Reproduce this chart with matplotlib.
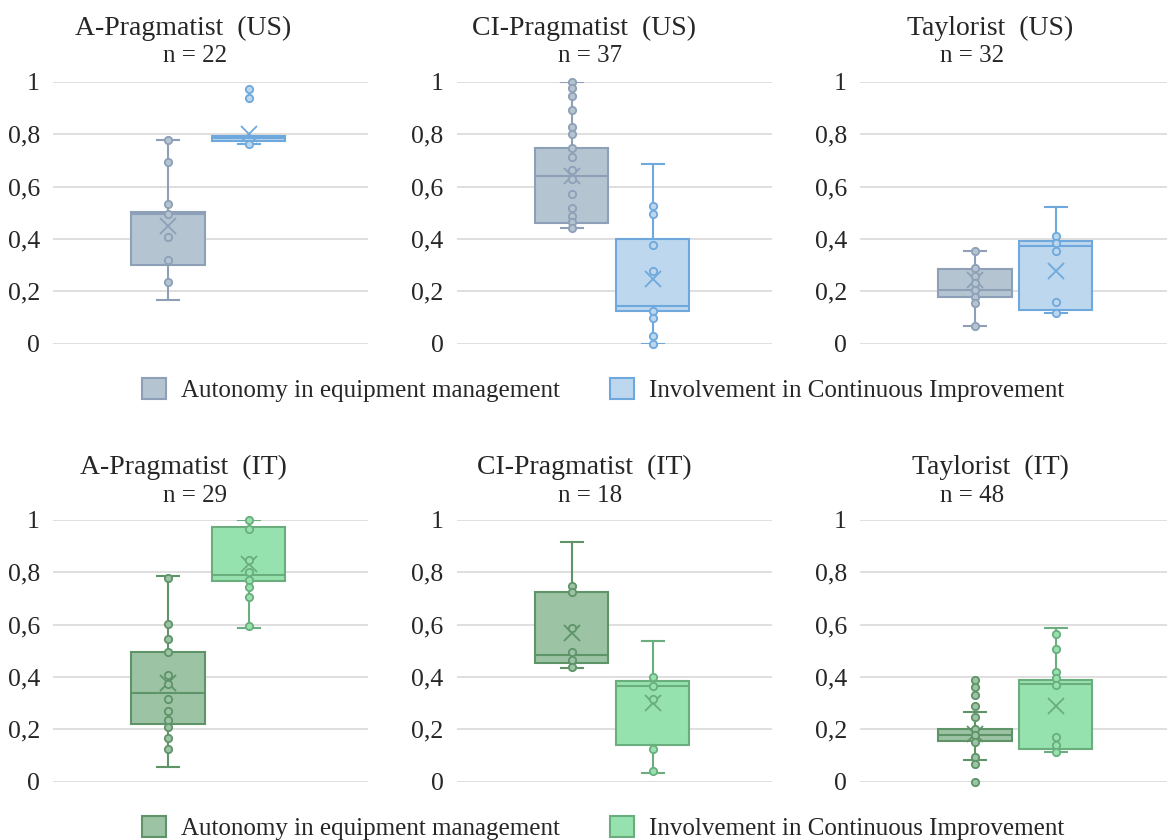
import matplotlib
matplotlib.use("Agg")
import matplotlib.pyplot as plt
from matplotlib.patches import Patch

plt.rcParams['font.family'] = ['Liberation Serif', 'DejaVu Serif']

# panel titles and sample sizes
titles = ['A-Pragmatist  (US)', 'CI-Pragmatist  (US)', 'Taylorist  (US)',
          'A-Pragmatist  (IT)', 'CI-Pragmatist  (IT)', 'Taylorist  (IT)']
n_counts = [22, 37, 32, 29, 18, 48]
series = ['Autonomy in equipment management', 'Involvement in Continuous Improvement']
ytick_vals = [0, 0.2, 0.4, 0.6, 0.8, 1]
ytick_labels = ['0', '0,2', '0,4', '0,6', '0,8', '1']

# box stats per panel: [whisker low, q1, median, q3, whisker high, mean]
auto_stats = [
    [0.166, 0.299, 0.496, 0.502, 0.778, 0.451],
    [0.441, 0.462, 0.640, 0.747, 1.000, 0.639],
    [0.068, 0.179, 0.203, 0.284, 0.352, 0.243],
    [0.054, 0.221, 0.338, 0.494, 0.785, 0.375],
    [0.433, 0.452, 0.482, 0.724, 0.916, 0.569],
    [0.084, 0.153, 0.179, 0.201, 0.267, 0.183],
]
inv_stats = [
    [0.764, 0.774, 0.784, 0.793, 0.793, 0.803],
    [0.000, 0.123, 0.142, 0.398, 0.688, 0.245],
    [0.115, 0.130, 0.373, 0.393, 0.522, 0.278],
    [0.588, 0.766, 0.788, 0.972, 1.000, 0.831],
    [0.033, 0.141, 0.364, 0.384, 0.537, 0.299],
    [0.111, 0.126, 0.373, 0.390, 0.588, 0.289],
]

# individual points shown on each box
auto_points = [
    [0.778, 0.693, 0.533, 0.494, 0.407, 0.318, 0.234],
    [1.0, 0.977, 0.946, 0.893, 0.828, 0.801, 0.747, 0.715, 0.663, 0.630, 0.572,
     0.519, 0.487, 0.464, 0.441],
    [0.352, 0.287, 0.258, 0.232, 0.204, 0.179, 0.153, 0.068],
    [0.778, 0.601, 0.545, 0.494, 0.409, 0.371, 0.317, 0.271, 0.234, 0.208,
     0.165, 0.125],
    [0.747, 0.724, 0.586, 0.494, 0.463, 0.439],
    [0.389, 0.361, 0.332, 0.289, 0.246, 0.201, 0.177, 0.152, 0.093, 0.067, 0.0],
]
inv_points = [
    [0.973, 0.939, 0.764],
    [0.527, 0.497, 0.377, 0.276, 0.123, 0.096, 0.027, 0.0],
    [0.412, 0.383, 0.352, 0.157, 0.115],
    [1.0, 0.964, 0.847, 0.803, 0.772, 0.744, 0.706, 0.594],
    [0.399, 0.364, 0.315, 0.123, 0.04],
    [0.563, 0.507, 0.420, 0.394, 0.368, 0.169, 0.141, 0.113],
]

# colours: (fill, edge) per row and series
us_colors = [('#B4C4D0', '#8EA0B8'), ('#BDD7EE', '#6FA8DC')]
it_colors = [('#9CC3A4', '#5E9468'), ('#96E2AE', '#6AAE7E')]

W, H = 1167, 840
fig = plt.figure(figsize=(W / 100, H / 100), dpi=100)

lefts = [53, 456.7, 860]
tops = [82, 520]
ax_w, ax_h = 315, 261.5
title_x = [183, 584, 990]
n_x = [195, 590, 972]
title_y = [[28, 56], [467, 496]]

positions = [0.365, 0.622]
box_w = 0.232


def make_stats(s):
    return dict(whislo=s[0], q1=s[1], med=s[2], q3=s[3], whishi=s[4], mean=s[5], fliers=[])


for i in range(6):
    row, col = divmod(i, 3)
    ax = fig.add_axes([lefts[col] / W, 1 - (tops[row] + ax_h) / H, ax_w / W, ax_h / H])
    colors = us_colors if row == 0 else it_colors
    for k, (stats, pts) in enumerate([(auto_stats[i], auto_points[i]),
                                      (inv_stats[i], inv_points[i])]):
        fill, edge = colors[k]
        ax.bxp([make_stats(stats)], positions=[positions[k]], widths=box_w,
               capwidths=0.07, showmeans=True, patch_artist=True, showfliers=False,
               boxprops=dict(facecolor=fill, edgecolor=edge, linewidth=1.5),
               medianprops=dict(color=edge, linewidth=1.5),
               whiskerprops=dict(color=edge, linewidth=1.5),
               capprops=dict(color=edge, linewidth=1.5),
               meanprops=dict(marker='x', markeredgecolor=edge, markersize=11,
                              markeredgewidth=1.3),
               zorder=2)
        ax.scatter([positions[k]] * len(pts), pts, s=28, facecolor=fill,
                   edgecolor=edge, linewidth=1.3, zorder=4, clip_on=False)
    ax.set_xlim(0, 1)
    ax.set_ylim(0, 1)
    ax.set_yticks(ytick_vals)
    ax.set_yticklabels(ytick_labels)
    ax.set_xticks([])
    ax.tick_params(axis='y', length=0, pad=9.4, labelsize=18.5, labelcolor='#262626')
    for sp in ax.spines.values():
        sp.set_visible(False)
    ax.grid(axis='y', color='#D9D9D9', linewidth=1.2, zorder=0)
    ax.set_axisbelow(True)

    fig.text(title_x[col] / W, 1 - title_y[row][0] / H, titles[i], ha='center',
             va='center', fontsize=20, color='#262626')
    fig.text(n_x[col] / W, 1 - title_y[row][1] / H, 'n = %d' % n_counts[i],
             ha='center', va='center', fontsize=18, color='#262626')

# legends
for row, ly in enumerate([390, 828]):
    colors = us_colors if row == 0 else it_colors
    handles = [Patch(facecolor=f, edgecolor=e, linewidth=1.5) for f, e in colors]
    fig.legend(handles, series, loc='center', bbox_to_anchor=(603 / W, 1 - ly / H),
               ncol=2, frameon=False, fontsize=18, handlelength=0.95, handleheight=0.95,
               handletextpad=0.6, columnspacing=2.0, labelcolor='#262626')

fig.savefig('out.png', dpi=100)
